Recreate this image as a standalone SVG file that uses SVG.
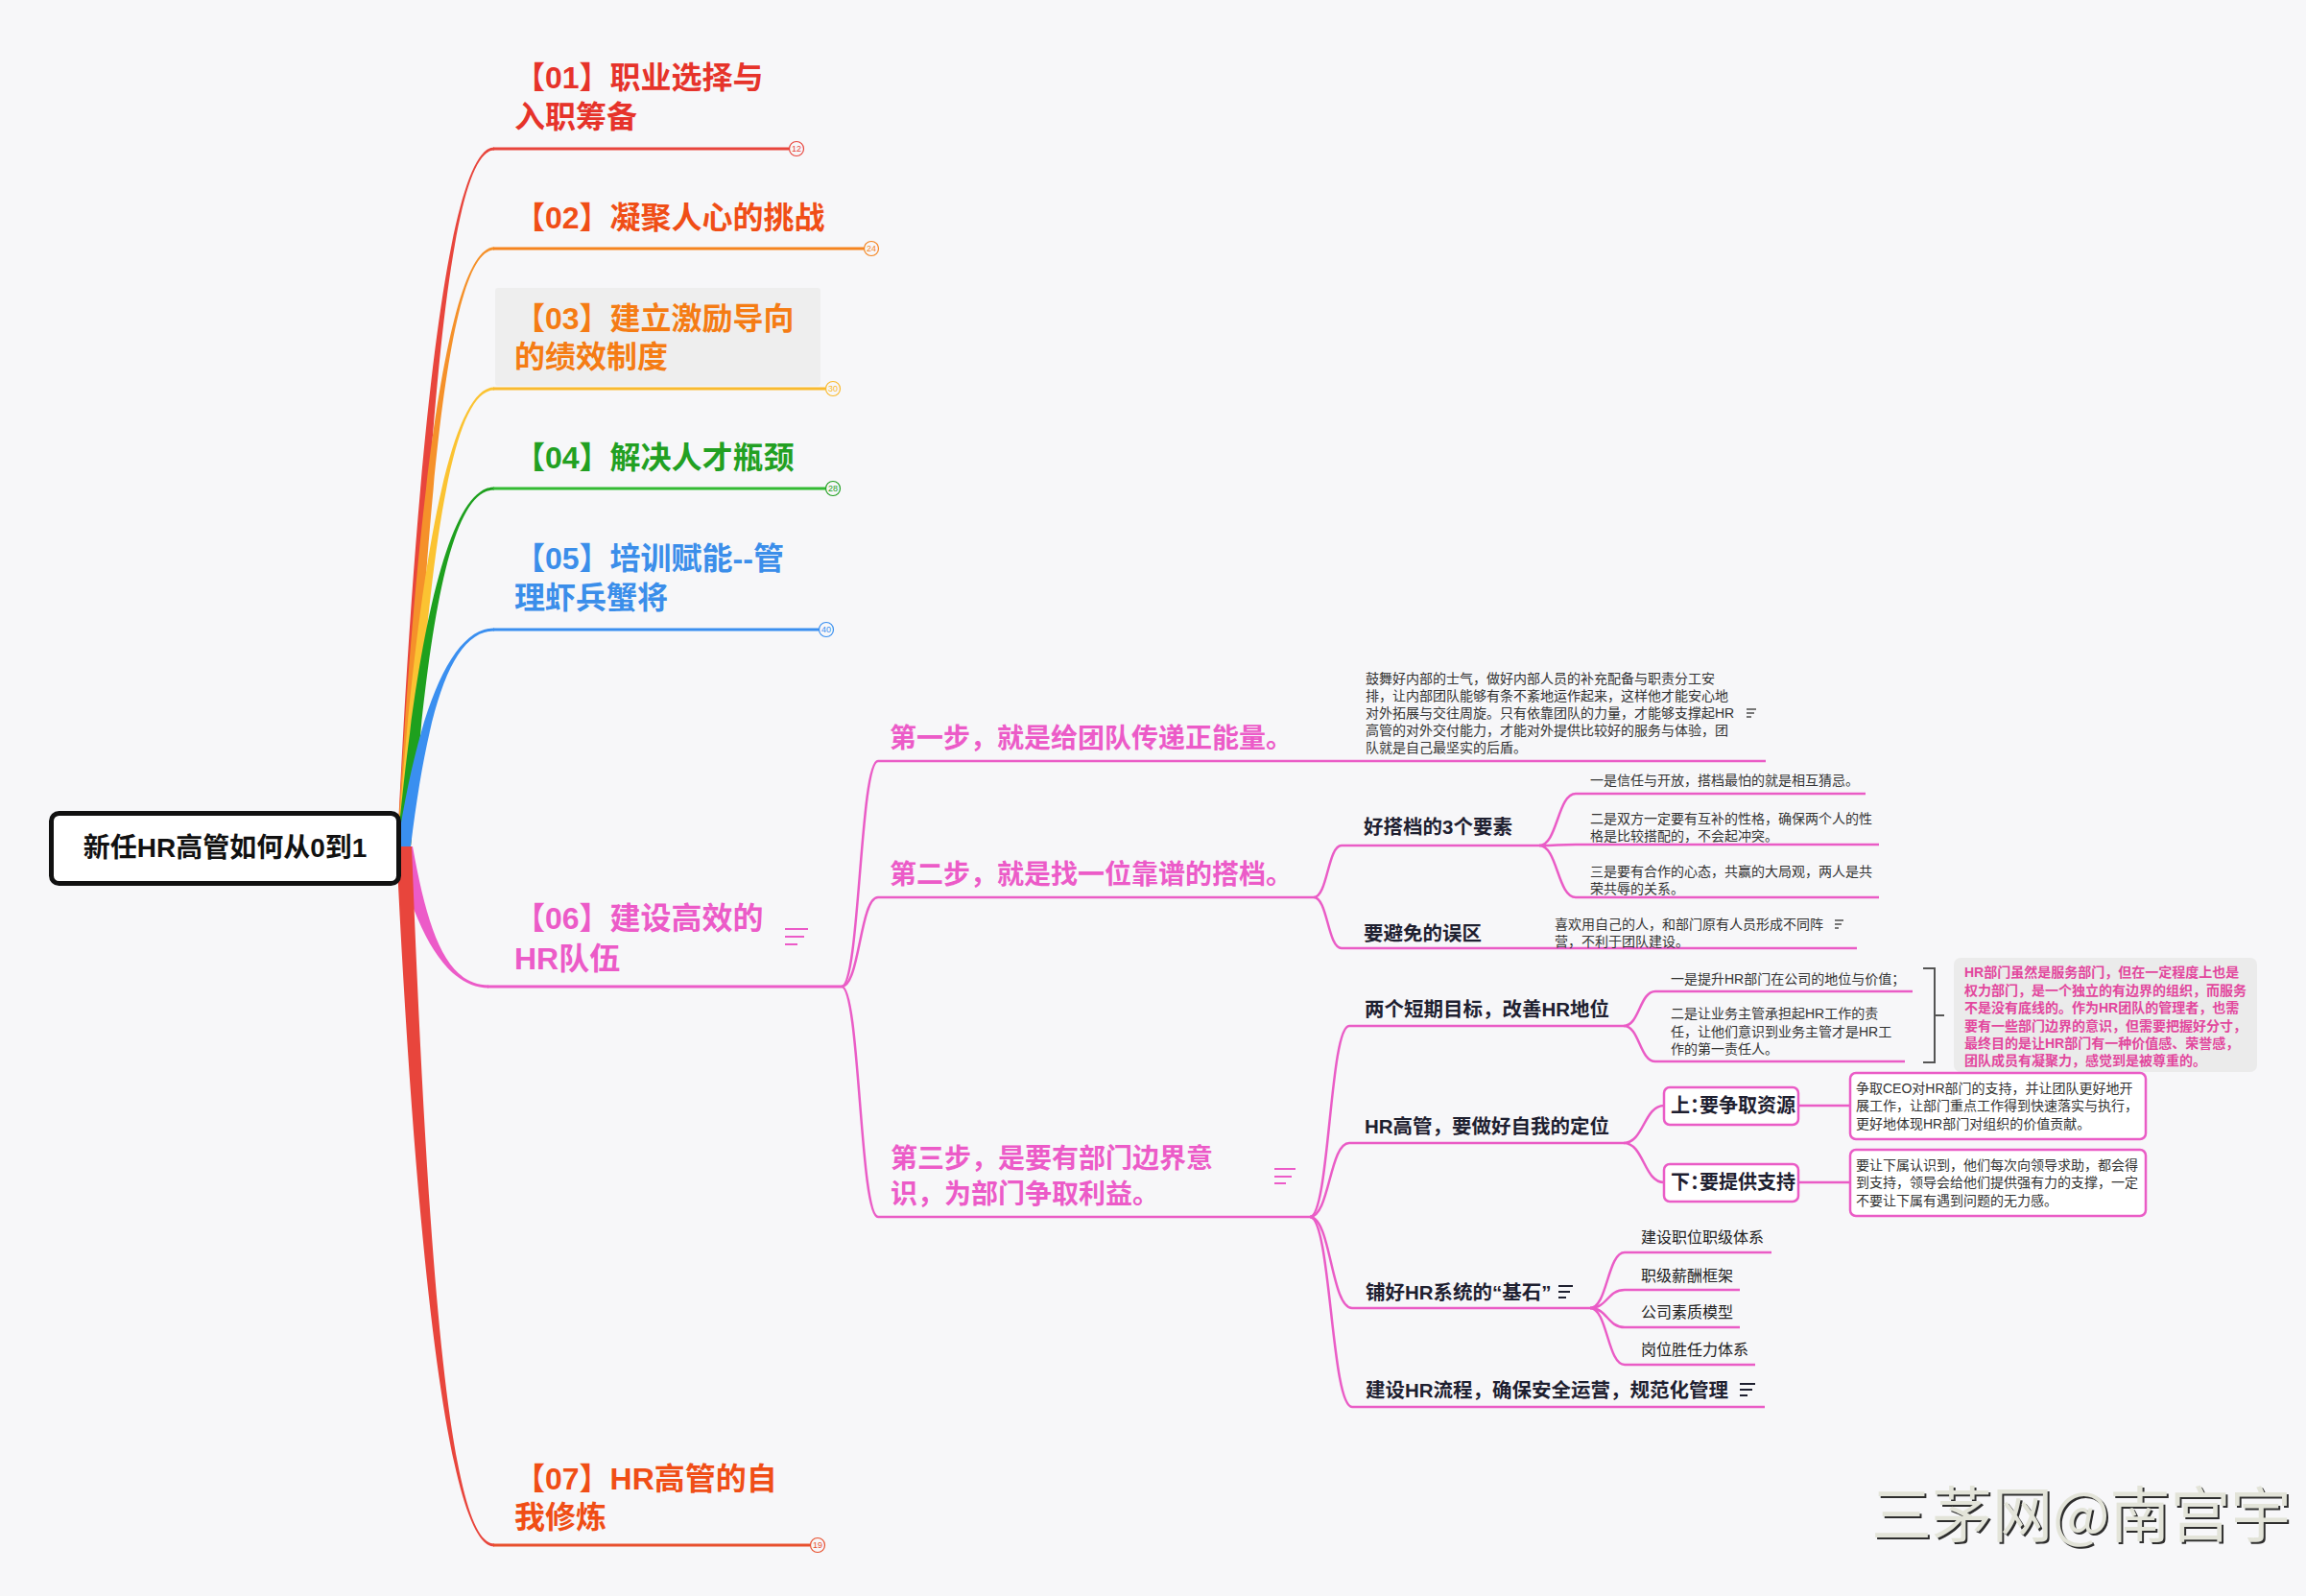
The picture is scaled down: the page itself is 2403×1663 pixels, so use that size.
<svg xmlns="http://www.w3.org/2000/svg" width="2403" height="1663" viewBox="0 0 2403 1663">
<style>
text{font-family:'Liberation Sans','Noto Sans CJK SC',sans-serif}
.main{font-size:32px;font-weight:700}
.step{font-size:28px;font-weight:700;fill:#EC5BC8}
.h2{font-size:20.5px;font-weight:700;fill:#1E2030}
.bx{font-size:20px;font-weight:700;fill:#1E2030;font-feature-settings:"halt"}
.sm{font-size:14px;fill:#333}
.leaf{font-size:16px;fill:#222}
.sum{font-size:14px;font-weight:700;fill:#E2479D}
.pk{fill:none;stroke:#EA5CC6;stroke-width:2.5}
.badge text{font-size:9px;text-anchor:middle}
.badge circle{fill:#F7F7F9;stroke-width:1.2}
.box{fill:#fff;stroke:#EA5CC6;stroke-width:2.5}
.note{fill:none;stroke-width:2}
</style>
<rect width="2403" height="1663" fill="#F7F7F9"/>

<g id="connectors">
  <path d="M414,882 C434.8,445.8 468,153.5 515,153.5 L515,156.5 C468,156.5 444.8,445.8 428,882 Z" fill="#E8453C"/>
  <path d="M414,882 C434.8,508.2 468,257.5 515,257.5 L515,260.5 C468,260.5 444.8,508.2 428,882 Z" fill="#F5912A"/>
  <path d="M414,882 C434.8,595.8 468,403.5 515,403.5 L515,406.5 C468,406.5 444.8,595.8 428,882 Z" fill="#FBC332"/>
  <path d="M414,882 C434.8,658.2 468,507.5 515,507.5 L515,510.5 C468,510.5 444.8,658.2 428,882 Z" fill="#1EA01E"/>
  <path d="M414,882 C434.8,746.4 468,654.5 515,654.5 L515,657.5 C468,657.5 444.8,746.4 428,882 Z" fill="#3A8FF0"/>
  <path d="M412,882 C431.6,969.6 465,1029.5 509,1029.5 L509,1026.5 C465,1026.5 445.6,969.6 430,882 Z" fill="#EC5BC8"/>
  <path d="M413,882 C433.8,1318.8 468,1611.5 515,1611.5 L515,1608.5 C468,1608.5 445.8,1318.8 429,882 Z" fill="#E8453C"/>

  <path d="M514,155 H822" stroke="#E8453C" stroke-width="3"/>
  <path d="M514,259 H900" stroke="#F5841F" stroke-width="3"/>
  <path d="M514,405 H860" stroke="#F9BA2E" stroke-width="3"/>
  <path d="M514,509 H860" stroke="#33BB33" stroke-width="3"/>
  <path d="M514,656 H853" stroke="#3A8FF0" stroke-width="3"/>
  <path d="M508,1028 H877" stroke="#EC5BC8" stroke-width="3"/>
  <path d="M514,1610 H844" stroke="#E8502E" stroke-width="3"/>

  <path class="pk" d="M877,1028 C896,1028 896,793 915,793 H1840"/>
  <path class="pk" d="M877,1028 C896,1028 896,935 915,935 H1369"/>
  <path class="pk" d="M877,1028 C896,1028 896,1268 915,1268 H1365"/>

  <path class="pk" d="M1369,935 C1383.5,935 1383.5,881 1398,881 H1604"/>
  <path class="pk" d="M1369,935 C1383.5,935 1383.5,988 1398,988 H1935"/>

  <path class="pk" d="M1604,881 C1623,881 1623,827 1642,827 H1944"/>
  <path class="pk" d="M1604,881 C1623,881 1623,880 1642,880 H1958"/>
  <path class="pk" d="M1604,881 C1623,881 1623,935 1642,935 H1958"/>

  <path class="pk" d="M1365,1268 C1385.5,1268 1385.5,1069 1406,1069 H1692"/>
  <path class="pk" d="M1365,1268 C1385.5,1268 1385.5,1191 1406,1191 H1692"/>
  <path class="pk" d="M1365,1268 C1387,1268 1387,1363 1409,1363 H1657"/>
  <path class="pk" d="M1365,1268 C1387,1268 1387,1466 1409,1466 H1839"/>

  <path class="pk" d="M1692,1069 C1708.5,1069 1708.5,1033 1725,1033 H1993"/>
  <path class="pk" d="M1692,1069 C1708.5,1069 1708.5,1106 1725,1106 H1985"/>

  <path class="pk" d="M1692,1191 C1713,1191 1713,1152 1734,1152"/>
  <path class="pk" d="M1692,1191 C1713,1191 1713,1232 1734,1232"/>
  <path class="pk" d="M1874,1152 H1928" stroke-width="3"/>
  <path class="pk" d="M1874,1232 H1928" stroke-width="3"/>

  <path class="pk" d="M1657,1363 C1675,1363 1675,1305 1693,1305 H1846"/>
  <path class="pk" d="M1657,1363 C1675,1363 1675,1344 1693,1344 H1813"/>
  <path class="pk" d="M1657,1363 C1675,1363 1675,1383 1693,1383 H1813"/>
  <path class="pk" d="M1657,1363 C1675,1363 1675,1422 1693,1422 H1829"/>
</g>

<g id="root">
  <rect x="53.5" y="847.5" width="362" height="73" rx="8" fill="#fff" stroke="#111" stroke-width="5"/>
  <text x="234.5" y="893" text-anchor="middle" font-size="28" font-weight="700" fill="#111">新任HR高管如何从0到1</text>
</g>

<g id="n01">
  <text class="main" fill="#E6332A"><tspan x="536" y="92">【01】职业选择与</tspan><tspan x="536" y="133">入职筹备</tspan></text>
  <g class="badge"><circle cx="830" cy="155" r="7.5" stroke="#E8453C"/><text x="830" y="158" fill="#E8453C">12</text></g>
</g>
<g id="n02">
  <text class="main" x="536" y="238" fill="#F04E16">【02】凝聚人心的挑战</text>
  <g class="badge"><circle cx="908" cy="259" r="7.5" stroke="#F5841F"/><text x="908" y="262" fill="#F5841F">24</text></g>
</g>
<g id="n03">
  <rect x="516" y="300" width="339" height="102" rx="3" fill="#EEEEEE"/>
  <text class="main" fill="#F57C14"><tspan x="536" y="343">【03】建立激励导向</tspan><tspan x="536" y="383">的绩效制度</tspan></text>
  <g class="badge"><circle cx="868" cy="405" r="7.5" stroke="#F9BA2E"/><text x="868" y="408" fill="#F9BA2E">30</text></g>
</g>
<g id="n04">
  <text class="main" x="536" y="488" fill="#22A022">【04】解决人才瓶颈</text>
  <g class="badge"><circle cx="868" cy="509" r="7.5" stroke="#22A022"/><text x="868" y="512" fill="#22A022">28</text></g>
</g>
<g id="n05">
  <text class="main" fill="#3B8EEA"><tspan x="536" y="593">【05】培训赋能--管</tspan><tspan x="536" y="634">理虾兵蟹将</tspan></text>
  <g class="badge"><circle cx="861" cy="656" r="7.5" stroke="#3A8FF0"/><text x="861" y="659" fill="#3A8FF0">40</text></g>
</g>
<g id="n06">
  <text class="main" fill="#EC5BC8"><tspan x="536" y="968">【06】建设高效的</tspan><tspan x="536" y="1010">HR队伍</tspan></text>
  <g class="note" stroke="#EC5BC8"><path d="M818,968 H842 M818,976 H838 M818,984 H831"/></g>
</g>
<g id="n07">
  <text class="main" fill="#F04E16"><tspan x="536" y="1552">【07】HR高管的自</tspan><tspan x="536" y="1592">我修炼</tspan></text>
  <g class="badge"><circle cx="852" cy="1610" r="7.5" stroke="#E8502E"/><text x="852" y="1613" fill="#E8502E">19</text></g>
</g>

<g id="step1">
  <text class="step" x="927" y="779">第一步，就是给团队传递正能量。</text>
</g>
<g id="step1-detail">
  <text class="sm"><tspan x="1423" y="712">鼓舞好内部的士气，做好内部人员的补充配备与职责分工安</tspan><tspan x="1423" y="730">排，让内部团队能够有条不紊地运作起来，这样他才能安心地</tspan><tspan x="1423" y="748">对外拓展与交往周旋。只有依靠团队的力量，才能够支撑起HR</tspan><tspan x="1423" y="766">高管的对外交付能力，才能对外提供比较好的服务与体验，团</tspan><tspan x="1423" y="784">队就是自己最坚实的后盾。</tspan></text>
  <g class="note" stroke="#777" stroke-width="1.3"><path d="M1820,739 H1830 M1820,743 H1828 M1820,747 H1825"/></g>
</g>

<g id="step2">
  <text class="step" x="927" y="921">第二步，就是找一位靠谱的搭档。</text>
</g>
<g id="partner3">
  <text class="h2" x="1421" y="869">好搭档的3个要素</text>
</g>
<g id="p1"><text class="sm" x="1657" y="818">一是信任与开放，搭档最怕的就是相互猜忌。</text></g>
<g id="p2">
  <text class="sm"><tspan x="1657" y="858">二是双方一定要有互补的性格，确保两个人的性</tspan><tspan x="1657" y="876">格是比较搭配的，不会起冲突。</tspan></text>
</g>
<g id="p3">
  <text class="sm"><tspan x="1657" y="913">三是要有合作的心态，共赢的大局观，两人是共</tspan><tspan x="1657" y="931">荣共辱的关系。</tspan></text>
</g>
<g id="avoid">
  <text class="h2" x="1421" y="980">要避免的误区</text>
</g>
<g id="avoid-detail">
  <text class="sm"><tspan x="1620" y="968">喜欢用自己的人，和部门原有人员形成不同阵</tspan><tspan x="1620" y="986">营，不利于团队建设。</tspan></text>
  <g class="note" stroke="#777" stroke-width="1.3"><path d="M1912,959 H1921 M1912,963 H1919 M1912,967 H1916"/></g>
</g>

<g id="step3">
  <text class="step"><tspan x="928" y="1217">第三步，是要有部门边界意</tspan><tspan x="928" y="1254">识，为部门争取利益。</tspan></text>
  <g class="note" stroke="#EC5BC8"><path d="M1328,1218 H1350 M1328,1226 H1346 M1328,1233 H1340"/></g>
</g>
<g id="goals">
  <text class="h2" x="1422" y="1059">两个短期目标，改善HR地位</text>
</g>
<g id="g1"><text class="sm" x="1741" y="1025">一是提升HR部门在公司的地位与价值；</text></g>
<g id="g2">
  <text class="sm"><tspan x="1741" y="1061">二是让业务主管承担起HR工作的责</tspan><tspan x="1741" y="1079.5">任，让他们意识到业务主管才是HR工</tspan><tspan x="1741" y="1098">作的第一责任人。</tspan></text>
</g>
<g id="summary">
  <path d="M2004,1009 H2016 V1107 H2004 M2016,1058 H2026" fill="none" stroke="#555" stroke-width="2"/>
  <rect x="2036" y="998" width="316" height="119" rx="7" fill="#EBEBEB"/>
  <text class="sum"><tspan x="2047" y="1018">HR部门虽然是服务部门，但在一定程度上也是</tspan><tspan x="2047" y="1037">权力部门，是一个独立的有边界的组织，而服务</tspan><tspan x="2047" y="1055">不是没有底线的。作为HR团队的管理者，也需</tspan><tspan x="2047" y="1074">要有一些部门边界的意识，但需要把握好分寸，</tspan><tspan x="2047" y="1092">最终目的是让HR部门有一种价值感、荣誉感，</tspan><tspan x="2047" y="1110">团队成员有凝聚力，感觉到是被尊重的。</tspan></text>
</g>
<g id="position">
  <text class="h2" x="1422" y="1181">HR高管，要做好自我的定位</text>
</g>
<g id="up">
  <rect class="box" x="1734" y="1133" width="140" height="39" rx="6"/>
  <text class="bx" x="1741" y="1159">上：要争取资源</text>
</g>
<g id="up-detail">
  <rect class="box" x="1928" y="1118" width="308" height="69" rx="6"/>
  <text class="sm"><tspan x="1934" y="1139">争取CEO对HR部门的支持，并让团队更好地开</tspan><tspan x="1934" y="1157">展工作，让部门重点工作得到快速落实与执行，</tspan><tspan x="1934" y="1176">更好地体现HR部门对组织的价值贡献。</tspan></text>
</g>
<g id="down">
  <rect class="box" x="1734" y="1213" width="140" height="39" rx="6"/>
  <text class="bx" x="1741" y="1239">下：要提供支持</text>
</g>
<g id="down-detail">
  <rect class="box" x="1928" y="1198" width="308" height="69" rx="6"/>
  <text class="sm"><tspan x="1934" y="1219">要让下属认识到，他们每次向领导求助，都会得</tspan><tspan x="1934" y="1237">到支持，领导会给他们提供强有力的支撑，一定</tspan><tspan x="1934" y="1256">不要让下属有遇到问题的无力感。</tspan></text>
</g>
<g id="base">
  <text class="h2" x="1423" y="1354">铺好HR系统的“基石”</text>
  <g class="note" stroke="#1E2030"><path d="M1624,1340 H1639 M1624,1346 H1636 M1624,1352 H1632"/></g>
</g>
<g id="b1"><text class="leaf" x="1710" y="1295">建设职位职级体系</text></g>
<g id="b2"><text class="leaf" x="1710" y="1335">职级薪酬框架</text></g>
<g id="b3"><text class="leaf" x="1710" y="1373">公司素质模型</text></g>
<g id="b4"><text class="leaf" x="1710" y="1412">岗位胜任力体系</text></g>
<g id="process">
  <text class="h2" x="1423" y="1456">建设HR流程，确保安全运营，规范化管理</text>
  <g class="note" stroke="#1E2030"><path d="M1813,1442 H1829 M1813,1448 H1826 M1813,1454 H1821"/></g>
</g>

<g id="watermark" font-family="'Noto Sans CJK SC',sans-serif">
  <text x="1952" y="1603" font-size="63" fill="#2e2e2e" style="font-family:'Noto Sans CJK SC',sans-serif">三茅网@南宫宇</text>
  <text x="1950" y="1601" font-size="63" fill="#E3E4D9" style="font-family:'Noto Sans CJK SC',sans-serif">三茅网@南宫宇</text>
</g>
</svg>
